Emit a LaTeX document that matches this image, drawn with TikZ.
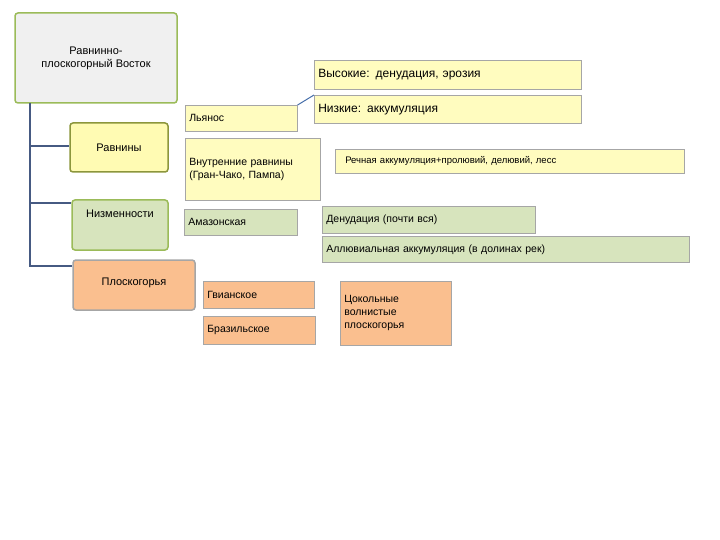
\documentclass[tikz,border=0pt]{standalone}
\usepackage{fontspec}
\setmainfont{Liberation Sans}
\begin{document}
\begin{tikzpicture}[x=1pt,y=-1pt,
 bx/.style={draw=#1,line width=0.6pt,inner sep=4pt,anchor=north west,align=left},
 yel/.style={bx=gray!70,fill=yellow!25!white},
 grn/.style={bx=gray!70,fill={rgb,255:red,215;green,228;blue,189}},
 org/.style={bx=gray!70,fill={rgb,255:red,250;green,191;blue,143}},
 big/.style={rounded corners=3pt,line width=1.5pt,align=center,font=\fontsize{11}{13}\selectfont}]
\useasboundingbox (0,0) rectangle (720,540);
\def\bb#1#2#3#4#5#6#7{\node[#1,minimum width=#4-#2,minimum height=#5-#3,text width=#4-#2-8] (#6) at (#2,#3) {#7};}
% root and categories
\node[big,draw={rgb,255:red,155;green,187;blue,89},fill=gray!12,minimum width=162,minimum height=90] (root) at (96,58) {Равнинно-\\плоскогорный Восток};
\node[big,draw={rgb,255:red,140;green,150;blue,60},fill=yellow!30!white,minimum width=98,minimum height=49] (rav) at (119,147.5) {Равнины};
\node[big,draw={rgb,255:red,155;green,187;blue,89},fill={rgb,255:red,215;green,228;blue,189},minimum width=96,minimum height=50,font=\fontsize{11}{13}\bfseries] (niz) at (120,225) {};
\node[font=\fontsize{11}{13}\selectfont] at (120,214) {Низменности};
\node[big,draw=gray!70,fill={rgb,255:red,250;green,191;blue,143},minimum width=122,minimum height=50] (plo) at (134,285) {};
\node[font=\fontsize{11}{13}\selectfont] at (134,283) {Плоскогорья};
\coordinate (t0) at (30,103);
\draw[line width=1.2pt,draw={rgb,255:red,70;green,90;blue,130}] (30,103) -- (30,266) -- (plo.west|-0,266)
 (30,146) -- (rav.west|-0,146) (30,203) -- (niz.west|-0,203);
% leaves
\tikzset{every node/.append style={font=\fontsize{10.5}{13}\selectfont}}
\bb{yel}{185}{105}{297}{131}{lya}{\raisebox{-6pt}{Льянос}}
\bb{yel}{185}{138}{320}{200}{vnu}{Внутренние равнины (Гран-Чако, Пампа)}
\bb{grn}{184}{209}{297}{235}{ama}{Амазонская}
\bb{yel,font=\fontsize{12}{14}\selectfont}{314}{60}{581}{89}{vys}{Высокие: денудация, эрозия}
\bb{yel,font=\fontsize{12}{14}\selectfont}{314}{95}{581}{123}{nizk}{Низкие: аккумуляция}
\bb{yel,font=\fontsize{9.5}{12}\selectfont}{335}{149}{684}{173}{rech}{\hspace{6pt}Речная аккумуляция+пролювий, делювий, лесс}
\bb{grn}{322}{206}{535}{233}{den}{Денудация (почти вся)}
\bb{grn}{322}{236}{689}{262}{all}{Аллювиальная аккумуляция (в долинах рек)}
\bb{org}{203}{281}{314}{308}{gvi}{Гвианское}
\bb{org}{203}{316}{315}{344}{bra}{Бразильское}
\bb{org}{340}{281}{451}{345}{cok}{Цокольные волнистые плоскогорья}
\draw[line width=1pt,draw={rgb,255:red,70;green,110;blue,170}] (lya.north east) -- (nizk.north west);
\end{tikzpicture}
\end{document}
